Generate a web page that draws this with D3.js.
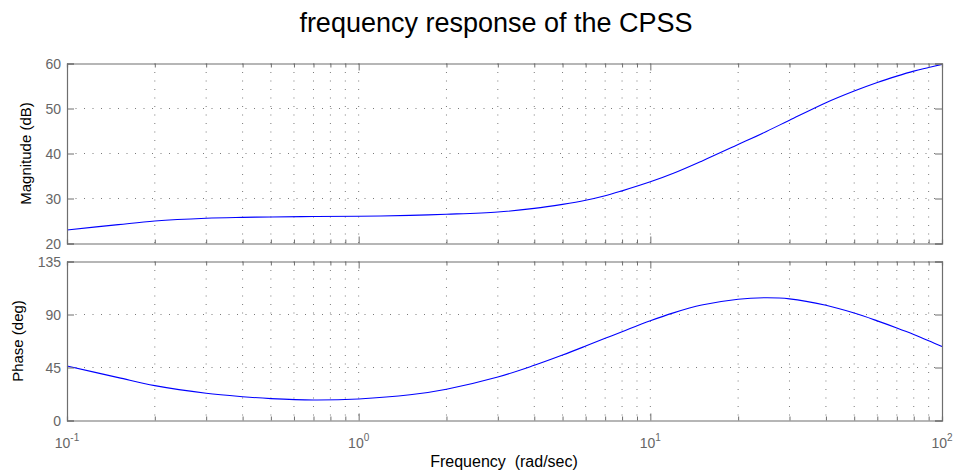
<!DOCTYPE html>
<html>
<head>
<meta charset="utf-8">
<script src="https://cdn.jsdelivr.net/npm/d3@7"></script>
<style>
  html, body { margin: 0; padding: 0; background: #fff; }
  svg { display: block; font-family: "Liberation Sans", Arial, Helvetica, sans-serif; }
  .pre { white-space: pre; }
</style>
</head>
<body>
<svg id="chart" width="955" height="472"></svg>
<script>
// Bode data of the CPSS (frequency in rad/sec)
const freq      = [0.1, 0.15, 0.2, 0.3, 0.4, 0.5, 0.7, 1, 1.5, 2, 3, 4, 5, 6, 7, 8, 10, 12, 15, 20, 25, 30, 40, 50, 60, 70, 80, 90, 100];
const magnitude = [23.0, 24.2, 25.0, 25.6, 25.8, 25.9, 26.0, 26.05, 26.25, 26.5, 27.0, 27.8, 28.7, 29.6, 30.6, 31.7, 33.7, 35.6, 38.3, 42.0, 44.9, 47.4, 51.3, 53.9, 55.8, 57.2, 58.3, 59.1, 59.8];
const phase     = [46.3, 36.4, 29.6, 23.1, 20.2, 18.6, 17.4, 18.3, 21.8, 26.6, 36.9, 46.9, 55.6, 63.2, 69.8, 75.4, 84.7, 91.4, 98.0, 103.0, 104.2, 103.3, 97.8, 91.2, 84.6, 78.6, 73.1, 67.8, 62.8];

const magTicks   = [20, 30, 40, 50, 60];
const phaseTicks = [0, 45, 90, 135];
const decadeTicks = [0.1, 1, 10, 100];
const decadeExp   = ["-1", "0", "1", "2"];

const titleText = "frequency response of the CPSS";
const xLabel = "Frequency  (rad/sec)";
const magLabel = "Magnitude (dB)";
const phaseLabel = "Phase (deg)";

const svg = d3.select("#chart");
const left = 67, right = 942;

const x = d3.scaleLog().domain([0.1, 100]).range([left, right]);

// minor log positions 2..9 in each decade
const minorTicks = [];
for (let d = 0.1; d < 100; d *= 10) {
  for (let k = 2; k <= 9; k++) minorTicks.push(+(d * k).toPrecision(3));
}

const axisColor = "#6e6e6e";
const gridColor = "#7a7a7a";
const textGray = "#666";

function panel(top, bottom, domain, ticks, data, yLabelText, yLabelX, showXLabels) {
  const y = d3.scaleLinear().domain(domain).range([bottom, top]);
  const g = svg.append("g");

  // dotted grid
  const grid = g.append("g").attr("stroke", gridColor).attr("stroke-width", 1)
    .attr("stroke-dasharray", "1,7.5").attr("fill", "none");
  minorTicks.concat(decadeTicks.slice(1, -1)).forEach(v => {
    grid.append("line").attr("x1", x(v)).attr("x2", x(v)).attr("y1", top).attr("y2", bottom);
  });
  ticks.slice(1, -1).forEach(v => {
    grid.append("line").attr("x1", left).attr("x2", right).attr("y1", y(v)).attr("y2", y(v));
  });

  // response curve
  const line = d3.line().x((d, i) => x(freq[i])).y(d => y(d)).curve(d3.curveCatmullRom.alpha(0.5));
  g.append("path").datum(data).attr("d", line).attr("fill", "none")
    .attr("stroke", "#0000ff").attr("stroke-width", 1.1);

  // boxed axes with inward ticks on all four sides
  const allX = minorTicks.concat(decadeTicks);
  const aB = g.append("g").attr("transform", `translate(0,${bottom})`)
    .call(d3.axisBottom(x).tickValues(allX).tickSize(-4).tickFormat(""));
  const aT = g.append("g").attr("transform", `translate(0,${top})`)
    .call(d3.axisTop(x).tickValues(allX).tickSize(-4).tickFormat(""));
  const aL = g.append("g").attr("transform", `translate(${left},0)`)
    .call(d3.axisLeft(y).tickValues(ticks).tickSize(-7).tickFormat(""));
  const aR = g.append("g").attr("transform", `translate(${right},0)`)
    .call(d3.axisRight(y).tickValues(ticks).tickSize(-7).tickFormat(""));
  aB.selectAll(".tick line").attr("y2", d => decadeTicks.includes(d) ? -7 : -4);
  aT.selectAll(".tick line").attr("y2", d => decadeTicks.includes(d) ? 7 : 4);
  [aB, aT, aL, aR].forEach(a => {
    a.selectAll("path").attr("stroke", axisColor).attr("stroke-width", 1.2);
    a.selectAll(".tick line").attr("stroke", axisColor);
  });

  // y tick labels
  g.append("g").selectAll("text").data(ticks).join("text")
    .attr("x", left - 6).attr("y", d => y(d)).attr("dy", "0.36em")
    .attr("text-anchor", "end").attr("fill", textGray).attr("font-size", 14)
    .text(d => d);

  // y axis title
  g.append("text")
    .attr("transform", `translate(${yLabelX},${(top + bottom) / 2}) rotate(-90)`)
    .attr("text-anchor", "middle").attr("font-size", 15).attr("fill", "#000")
    .text(yLabelText);

  if (showXLabels) {
    const lbl = g.append("g").selectAll("text").data(decadeTicks).join("text")
      .attr("x", d => x(d)).attr("y", bottom + 27)
      .attr("text-anchor", "middle").attr("fill", textGray).attr("font-size", 14);
    lbl.append("tspan").text("10");
    lbl.append("tspan").attr("dy", -7).attr("font-size", 10).text((d, i) => decadeExp[i]);
  }
}

panel(63.5, 243.5, [20, 60], magTicks, magnitude, magLabel, 30.5, false);
panel(261.5, 420.5, [0, 135], phaseTicks, phase, phaseLabel, 22.5, true);

svg.append("text").attr("x", 496).attr("y", 32).attr("text-anchor", "middle")
  .attr("font-size", 27).attr("fill", "#000").text(titleText);

svg.append("text").attr("class", "pre").attr("x", 504).attr("y", 467).attr("text-anchor", "middle")
  .attr("font-size", 16).attr("fill", "#000").text(xLabel);
</script>
</body>
</html>
